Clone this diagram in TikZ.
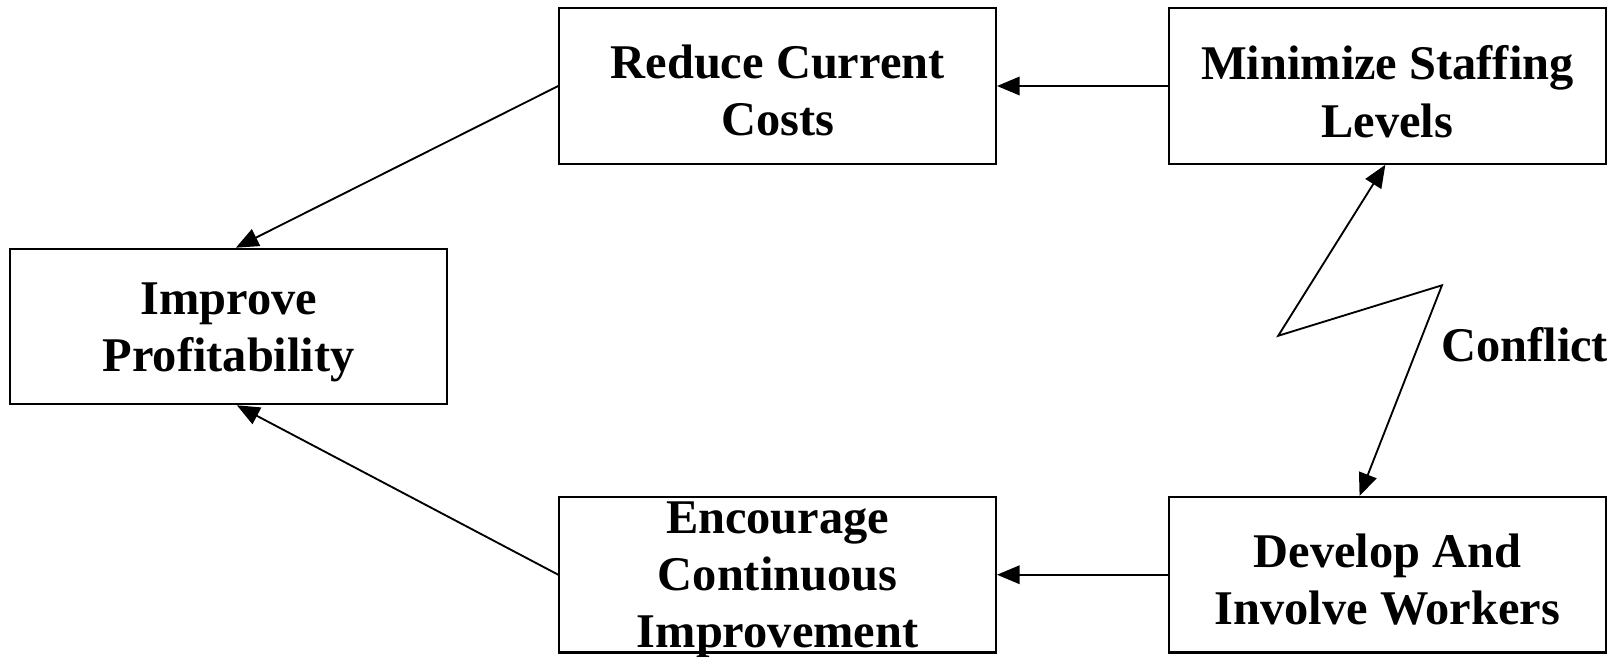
\documentclass[tikz,border=0pt]{standalone}
\usepackage{fontspec}
\setmainfont{Liberation Serif}
\usetikzlibrary{arrows.meta}
\begin{document}
\begin{tikzpicture}[x=0.5pt,y=-0.5pt,
  box/.style={draw,line width=1pt,minimum width=212pt,minimum height=75.5pt,inner sep=0pt},
  txt/.style={inner sep=0pt,align=center,font=\fontsize{23.5}{27.8}\selectfont\bfseries},
  arr/.style={line width=0.9pt,-{Triangle[length=11pt,width=9pt]}},
  darr/.style={line width=0.9pt,{Triangle[length=11pt,width=9pt]}-{Triangle[length=11pt,width=9pt]}}]
\useasboundingbox (0,0) rectangle (1568,637);
\node[box] (P) at (222,317) {};
\node[box] (R) at (755,83.5) {};
\node[box] (M) at (1347,83.5) {};
\node[box] (E) at (755,558) {};
\node[box] (D) at (1347,558) {};
\node[txt] (Pt) at (222,323) {Improve\\Profitability};
\node[txt] (Rt) at (755,88) {Reduce Current\\Costs};
\node[txt] (Mt) at (1347,89) {Minimize Staffing\\Levels};
\node[txt] (Et) at (755,563) {Encourage\\Continuous\\Improvement};
\node[txt] (Dt) at (1347,563) {Develop And\\Involve Workers};
\coordinate (z1) at (1241,326);
\coordinate (z2) at (1400,277);
\node[txt,anchor=west] (C) at (1399,335) {Conflict};
\draw[arr] (R.west) -- ([xshift=3.5pt]P.north);
\draw[arr] (E.west) -- ([xshift=4pt]P.south);
\draw[arr] (M.west) -- (R.east);
\draw[arr] (D.west) -- (E.east);
\draw[darr] ([xshift=-1pt]M.south) -- (z1) -- (z2) -- ([xshift=-13.5pt]D.north);
\end{tikzpicture}
\end{document}
